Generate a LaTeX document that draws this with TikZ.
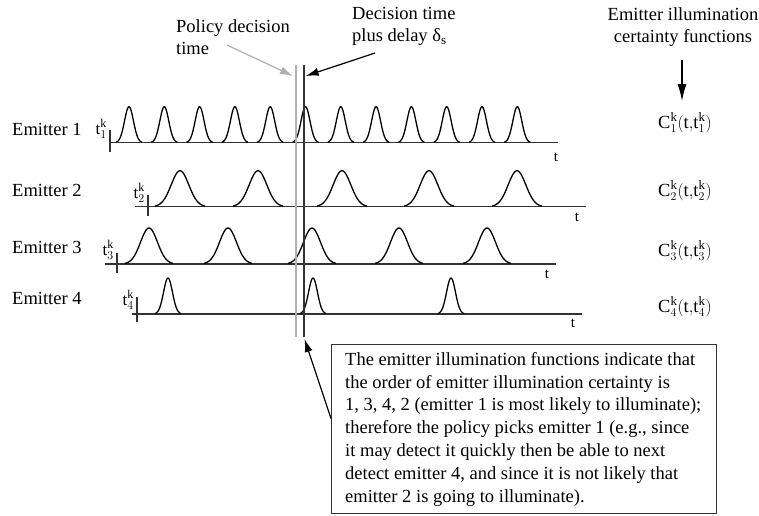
\documentclass[tikz,border=0pt]{standalone}
\usepackage{fontspec}
\setmainfont{Liberation Serif}
\usetikzlibrary{arrows.meta,calc}
\definecolor{axisgray}{HTML}{333333}
\definecolor{lightln}{HTML}{AFAFAF}
\newcommand\mypulse[4]{%
  \draw[pulseline] plot[domain=-#4:#4, samples=41, smooth] ({#1+\x},{#2-36*exp(-(\x/#3)^2)});}
\begin{document}
\begin{tikzpicture}[x=1pt,y=-1pt,
  lbl/.style={font=\fontsize{18.5}{22}\selectfont, inner sep=0pt},
  tklbl/.style={font=\fontsize{17}{20}\selectfont, inner sep=0pt, anchor=base east},
  tlbl/.style={font=\fontsize{15}{18}\selectfont, inner sep=0pt},
  clbl/.style={font=\fontsize{18.5}{22}\selectfont, inner sep=0pt, anchor=base west},
  axisline/.style={line width=1.4pt, draw=axisgray},
  pulseline/.style={line width=1.3pt, draw=black},
  arr/.style={line width=1.2pt, -{Latex[length=13pt,width=8pt]}},
  ]
\useasboundingbox (0,0) rectangle (759,515);

% emitter labels
\node[lbl, anchor=base west] (e1) at (12,135) {Emitter 1};
\node[lbl, anchor=base west] (e2) at (12,196) {Emitter 2};
\node[lbl, anchor=base west] (e3) at (12,253) {Emitter 3};
\node[lbl, anchor=base west] (e4) at (12,304) {Emitter 4};

% axes
\draw[axisline] (109,142.7) -- (557.7,142.7);
\draw[axisline] (110,130) -- (110,152);
\draw[axisline] (135,206.7) -- (586,206.7);
\draw[axisline] (148,195) -- (148,216);
\draw[axisline] (105,264) -- (556,264);
\draw[axisline] (117,253) -- (117,273);
\draw[axisline] (132,314) -- (582,314);
\draw[axisline] (137,297) -- (137,322);

% t labels
\node[tlbl] (ta1) at (556,157) {t};
\node[tlbl] (ta2) at (577,217) {t};
\node[tlbl] (ta3) at (547,274) {t};
\node[tlbl] (ta4) at (573,323) {t};

% t^k_i labels
\node[tklbl] (tk1) at (107,134) {$\mathrm{t}^{\mathrm{k}}_{1}$};
\node[tklbl] (tk2) at (145,198) {$\mathrm{t}^{\mathrm{k}}_{2}$};
\node[tklbl] (tk3) at (114,255) {$\mathrm{t}^{\mathrm{k}}_{3}$};
\node[tklbl] (tk4) at (134,305) {$\mathrm{t}^{\mathrm{k}}_{4}$};

% pulses
\foreach \i in {0,...,11} {\pgfmathsetmacro\cc{129+35.3*\i}\mypulse{\cc}{142.7}{6.3}{13}}
\foreach \cc in {180,258,342,429,517} {\mypulse{\cc}{206.7}{12.5}{25}}
\foreach \cc in {149,228,312,399,487} {\mypulse{\cc}{264}{12}{24}}
\foreach \cc in {168,313,451} {\mypulse{\cc}{314}{6.3}{13}}

% vertical decision lines
\draw[line width=1.8pt, draw=lightln] (295.7,65) -- (295.7,337);
\draw[line width=2.2pt, draw=axisgray] (303.7,65) -- (303.7,337);

% top annotations
\node[lbl, anchor=north west, align=left] (pdt) at (176,19) {Policy decision\\time};
\node[lbl, anchor=north west, align=left] (dtd) at (352,7) {Decision time\\plus delay $\mbox{δ}_{\mathrm{s}}$};
\node[lbl, anchor=north, align=center] (eic) at (683,7) {Emitter illumination\\certainty functions};

\coordinate (gs) at (227,45);
\coordinate (gt) at (293,76);
\coordinate (bs) at (375,53);
\coordinate (bt) at (305.7,76);
\coordinate (ds) at (682,60);
\coordinate (dt) at (682,101);
\draw[arr, draw=lightln, fill=lightln] (gs) -- (gt);
\draw[arr, fill=black] (bs) -- (bt);
\draw[line width=1.2pt, -{Latex[length=17pt,width=9pt]}] (ds) -- (dt);

% C labels
\node[clbl] (c1) at (658,128) {$\mathrm{C}^{\mathrm{k}}_{1}(\mathrm{t}{,}\mathrm{t}^{\mathrm{k}}_{1})$};
\node[clbl] (c2) at (658,196) {$\mathrm{C}^{\mathrm{k}}_{2}(\mathrm{t}{,}\mathrm{t}^{\mathrm{k}}_{2})$};
\node[clbl] (c3) at (658,256) {$\mathrm{C}^{\mathrm{k}}_{3}(\mathrm{t}{,}\mathrm{t}^{\mathrm{k}}_{3})$};
\node[clbl] (c4) at (658,312) {$\mathrm{C}^{\mathrm{k}}_{4}(\mathrm{t}{,}\mathrm{t}^{\mathrm{k}}_{4})$};

% explanation box
\node[draw=axisgray, line width=1.2pt, anchor=north west, inner sep=0pt,
      minimum width=385pt, minimum height=169pt] (box) at (331,344) {};
\node[anchor=west, inner sep=0pt, align=left,
      font=\fontsize{18.5}{22.8}\selectfont] (boxtext) at ([xshift=14pt]box.west)
 {The emitter illumination functions indicate that\\
  the order of emitter illumination certainty is\\
  1, 3, 4, 2 (emitter 1 is most likely to illuminate);\\
  therefore the policy picks emitter 1 (e.g., since\\
  it may detect it quickly then be able to next\\
  detect emitter 4, and since it is not likely that\\
  emitter 2 is going to illuminate).};
\coordinate (bx) at ([yshift=10.5pt]box.west);
\coordinate (btip) at (304.5,339);
\draw[arr, fill=black] (bx) -- (btip);
\end{tikzpicture}
\end{document}
